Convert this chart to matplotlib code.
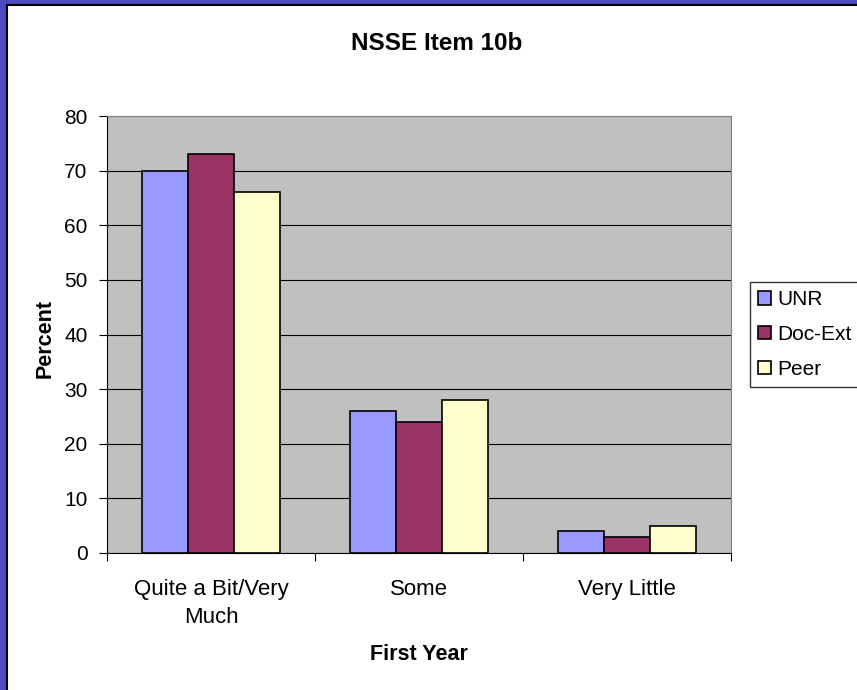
import numpy as np
import matplotlib.pyplot as plt
from matplotlib.patches import Rectangle

plt.rcParams['font.family'] = ['Liberation Sans', 'DejaVu Sans']

categories = ['Quite a Bit/Very\nMuch', 'Some', 'Very Little']
series = ['UNR', 'Doc-Ext', 'Peer']
unr = [70, 26, 4]
doc_ext = [73, 24, 3]
peer = [66, 28, 5]
colors = ['#9999FF', '#993366', '#FFFFCC']

fig = plt.figure(figsize=(8.57, 6.9), dpi=100)
fig.patch.set_facecolor('#4b4bbf')
# white chart panel inside the blue slide border
fig.patches.append(Rectangle((7/857, -0.01), 1, 1.01 - 5/690, transform=fig.transFigure,
                             facecolor='white', edgecolor='black', lw=1.5, zorder=-5))

ax = fig.add_axes([107/857, 1 - 553/690, 624/857, 437/690])
ax.set_facecolor('#C0C0C0')

x = np.arange(len(categories))
w = 0.221
for i, (vals, name) in enumerate(zip([unr, doc_ext, peer], series)):
    ax.bar(x + (i - 1) * w, vals, width=w, color=colors[i], edgecolor='black',
           linewidth=1.2, label=name, zorder=3)

ax.set_xlim(-0.5, 2.5)
ax.set_ylim(0, 80)
ax.set_yticks(range(0, 81, 10))
ax.yaxis.grid(True, color='black', lw=0.8, zorder=1)
ax.set_axisbelow(True)

ax.set_xticks([-0.5, 0.5, 1.5, 2.5])
ax.set_xticklabels([])
ax.set_xticks(x, minor=True)
ax.set_xticklabels(categories, minor=True, fontsize=16, linespacing=1.4)
ax.tick_params(axis='x', which='minor', length=0, pad=19)
ax.tick_params(axis='x', which='major', length=6, direction='out', color='black')
ax.tick_params(axis='y', length=6, direction='out', labelsize=15, pad=8)

for s in ['top', 'right']:
    ax.spines[s].set_color('#808080')
for s in ['left', 'bottom']:
    ax.spines[s].set_color('black')

fig.text(45/857, 1 - 338/690, 'Percent', rotation=90, ha='center', va='center',
         fontsize=15.5, fontweight='bold')
fig.text(419/857, 1 - 655/690, 'First Year', ha='center', va='center',
         fontsize=15.5, fontweight='bold')
fig.text(437/857, 1 - 44/690, 'NSSE Item 10b', ha='center', va='center',
         fontsize=17.5, fontweight='bold')

leg = ax.legend(loc='upper left', bbox_to_anchor=(750/857, 1 - 282/690),
                bbox_transform=fig.transFigure, borderaxespad=0, fontsize=15,
                frameon=True, fancybox=False, edgecolor='black',
                handlelength=0.6, handleheight=0.6, handletextpad=0.3,
                labelspacing=0.75, borderpad=0.4)
leg.get_frame().set_linewidth(1)

fig.savefig('out.png', dpi=100, facecolor=fig.get_facecolor())
